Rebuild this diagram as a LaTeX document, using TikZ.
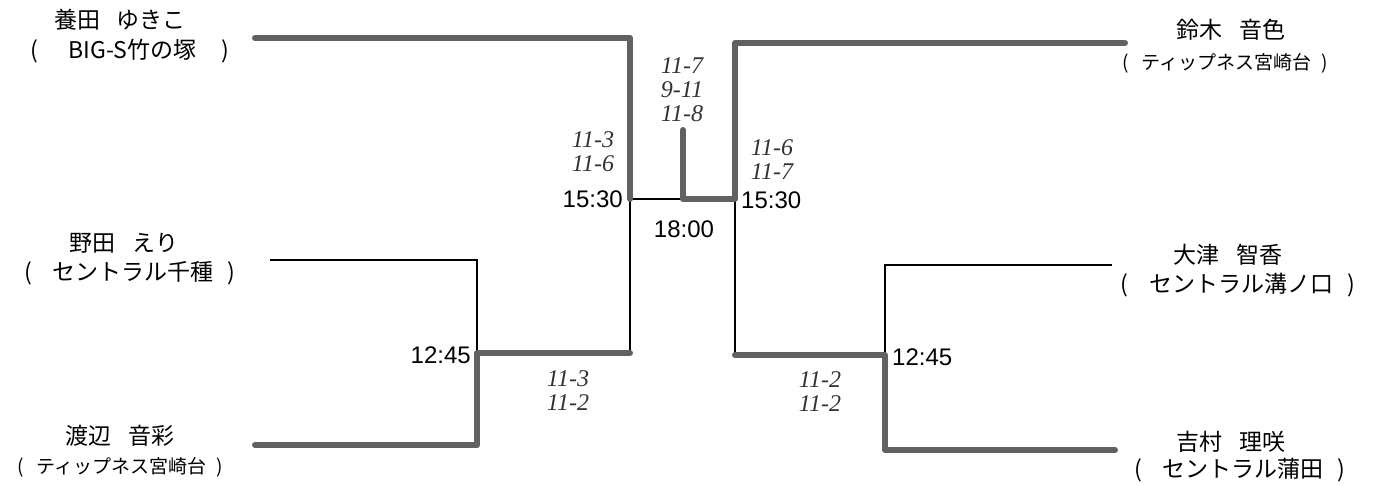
\documentclass[tikz,border=0pt]{standalone}
\usepackage{fontspec}
\setmainfont{Liberation Sans}
\newfontfamily\jp{Noto Sans CJK JP}
\newfontfamily\hand{Liberation Serif}
\begin{document}
\begin{tikzpicture}[x=1pt,y=-1pt,
  win/.style={line width=6pt,draw=black!62,line cap=round,line join=round},
  lose/.style={line width=1.4pt,draw=black},
  pname/.style={font=\jp\fontsize{23}{26}\selectfont,inner sep=0pt},
  pclub/.style={font=\jp\fontsize{23}{26}\selectfont,inner sep=0pt},
  pclubs/.style={font=\jp\fontsize{19}{22}\selectfont,inner sep=0pt},
  time/.style={font=\fontsize{24}{26}\selectfont,inner sep=0pt},
  score/.style={font=\hand\itshape\fontsize{24}{24}\selectfont,text=black!80,align=center,inner sep=0pt}]
\useasboundingbox (0,0) rectangle (1375,486);
% coordinates
\coordinate (a1) at (255,38);
\coordinate (a2) at (630,38);
\coordinate (jl) at (630,199);
\coordinate (fm) at (683,199);
\coordinate (fs) at (683,130);
\coordinate (jr) at (735,199);
\coordinate (b2) at (735,43);
\coordinate (b1) at (1125,43);
\coordinate (c1) at (270,260);
\coordinate (c2) at (477,260);
\coordinate (kl) at (477,353);
\coordinate (kl2) at (630,353);
\coordinate (d1) at (255,445);
\coordinate (d2) at (477,445);
\coordinate (kr2) at (735,355);
\coordinate (kr) at (885,355);
\coordinate (e2) at (885,265);
\coordinate (e1) at (1112,265);
\coordinate (g2) at (885,450);
\coordinate (g1) at (1115,450);
% thin lines
\draw[lose] (jl) -- (fm);
\draw[lose] (jl) -- (kl2);
\draw[lose] (c1) -- (c2) -- (kl);
\draw[lose] (jr) -- (kr2);
\draw[lose] (e1) -- (e2) -- (kr);
% thick lines
\draw[win] (a1) -- (a2) -- (jl);
\draw[win] (fs) -- (fm) -- (jr) -- (b2) -- (b1);
\draw[win] (kl2) -- (kl) -- (d2) -- (d1);
\draw[win] (kr2) -- (kr) -- (g2) -- (g1);
% names
\node[pname] (n1) at (120,20) {養田\hspace{0.7em}ゆきこ};
\node[pclub] (c1t) at (130,51) {(\hspace{1.3em}BIG-S竹の塚\hspace{1.1em})};
\node[pname] (n2) at (124,243) {野田\hspace{0.7em}えり};
\node[pclub] (c2t) at (130,273) {(\hspace{0.9em}セントラル千種\hspace{0.6em})};
\node[pname] (n3) at (120,436) {渡辺\hspace{0.7em}音彩};
\node[pclubs] (c3t) at (120,467) {(\hspace{0.7em}ティップネス宮崎台\hspace{0.5em})};
\node[pname] (n4) at (1231,30) {鈴木\hspace{0.7em}音色};
\node[pclubs] (c4t) at (1225,63) {(\hspace{0.7em}ティップネス宮崎台\hspace{0.5em})};
\node[pname] (n5) at (1228,255) {大津\hspace{0.7em}智香};
\node[pclub] (c5t) at (1238,285) {(\hspace{0.9em}セントラル溝ノ口\hspace{0.6em})};
\node[pname] (n6) at (1231,442) {吉村\hspace{0.7em}理咲};
\node[pclub] (c6t) at (1240,470) {(\hspace{0.9em}セントラル蒲田\hspace{0.6em})};
% times
\node[time,anchor=east] (t1) at (623,199) {15:30};
\node[time,anchor=west] (t2) at (741,200) {15:30};
\node[time] (t3) at (684,229) {18:00};
\node[time,anchor=east] (t4) at (471,355) {12:45};
\node[time,anchor=west] (t5) at (892,357) {12:45};
% scores
\node[score] (s1) at (593,152) {11-3\\11-6};
\node[score] (s2) at (682,90) {11-7\\9-11\\11-8};
\node[score] (s3) at (772,160) {11-6\\11-7};
\node[score] (s4) at (568,391) {11-3\\11-2};
\node[score] (s5) at (820,392) {11-2\\11-2};
\end{tikzpicture}
\end{document}
